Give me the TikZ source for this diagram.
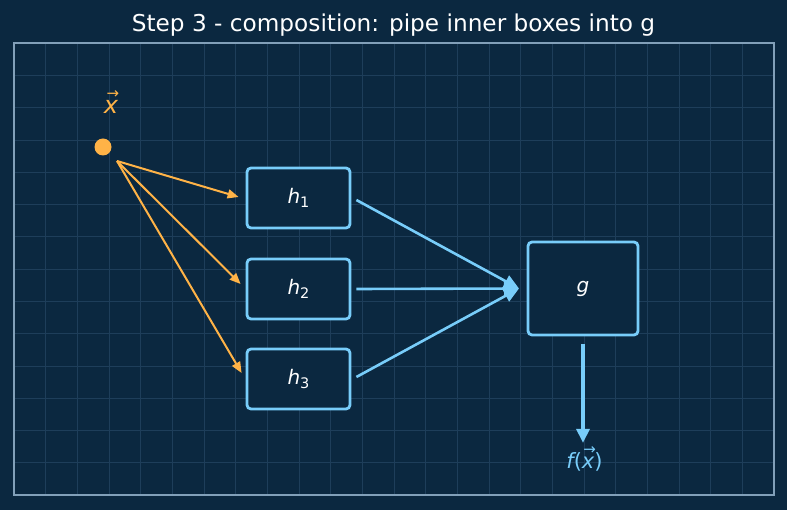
\documentclass[tikz,border=0pt]{standalone}
\usepackage{fontspec}
\setmainfont{DejaVu Sans}
\newfontfamily\dvi{DejaVu Sans Oblique}
\newfontfamily\dvs{DejaVu Sans}
\usetikzlibrary{arrows.meta}
\definecolor{bgc}{RGB}{11,40,64}
\definecolor{gridc}{RGB}{30,62,90}
\definecolor{framec}{RGB}{130,160,185}
\definecolor{orng}{RGB}{255,179,71}
\definecolor{blu}{RGB}{120,205,250}
\newcommand{\hsub}[1]{{\dvi h}\raisebox{-0.22em}{\fontsize{14.5}{15}\selectfont #1}}
\newcommand{\vx}{\leavevmode\hbox{\ooalign{{\dvi x}\cr\hidewidth\kern0.15em\raisebox{0.62em}{\dvs\fontsize{15}{15}\selectfont →}\hidewidth\cr}}}
\tikzset{
  box/.style={draw=blu, line width=2.8pt, rounded corners=4pt, fill=bgc, text=white, font=\fontsize{20}{20}\selectfont, inner sep=0pt},
  lbl/.style={font=\fontsize{21}{21}\selectfont, inner sep=0pt, anchor=base},
  oarrow/.style={draw=orng, line width=2pt, -{Triangle[length=11pt,width=9pt]}},
  barrow/.style={draw=blu, line width=2.6pt, -{Triangle[length=15pt,width=13pt]}},
  darrow/.style={draw=blu, line width=3.4pt, -{Triangle[length=14pt,width=13pt]}},
  gridline/.style={draw=gridc, line width=0.7pt},
}
\begin{document}
\begin{tikzpicture}[x=1pt,y=-1pt]
\fill[bgc] (0,0) rectangle (787,510);
\useasboundingbox (0,0) rectangle (787,510);
% grid
\foreach \k in {1,...,23} {\draw[gridline] (14+\k*31.667,43) -- (14+\k*31.667,495);}
\foreach \k in {1,...,13} {\draw[gridline] (14,43+\k*32.286) -- (774,43+\k*32.286);}
\draw[draw=framec, line width=1.6pt] (14,43) rectangle (774,495);
% title
\node[text=white, font=\fontsize{23.2}{23.2}\selectfont, inner sep=0pt, anchor=base] (title) at (393.5,32) {Step 3 - composition: pipe inner boxes into g};
% input
\fill[orng] (103,147) circle (8.5);
\node[inner sep=0pt, minimum size=17pt] (xin) at (103,147) {};
\node[lbl, text=orng, font=\fontsize{24}{24}\selectfont] (xlab) at (111,113.5) {\vx};
\coordinate (xs) at (117,161);
% boxes
\node[box, minimum width=103pt, minimum height=60pt] (h1) at (298.5,198) {\hsub{1}};
\node[box, minimum width=103pt, minimum height=60pt] (h2) at (298.5,289) {\hsub{2}};
\node[box, minimum width=103pt, minimum height=60pt] (h3) at (298.5,379) {\hsub{3}};
\node[box, minimum width=110pt, minimum height=93pt] (g) at (583,288.5) {{\dvi g}};
\coordinate (gin) at (519,288.5);
\node[lbl, text=blu] (out) at (584.5,468) {{\dvi f}(\vx)};
% connectors
\draw[oarrow] (xs) -- ([xshift=-7pt,yshift=1pt]h1.west);
\draw[oarrow] (xs) -- ([xshift=-5pt,yshift=5pt]h2.west);
\draw[oarrow] (xs) -- ([xshift=-4pt,yshift=6pt]h3.west);
\draw[barrow] ([xshift=5pt,yshift=-2pt]h1.east) -- (gin);
\draw[barrow] ([xshift=5pt]h2.east) -- (gin);
\draw[barrow] ([xshift=5pt,yshift=2pt]h3.east) -- (gin);
\draw[darrow] ([yshift=-8pt]g.south) -- ([yshift=9pt]g.south |- out.north);
\end{tikzpicture}
\end{document}
